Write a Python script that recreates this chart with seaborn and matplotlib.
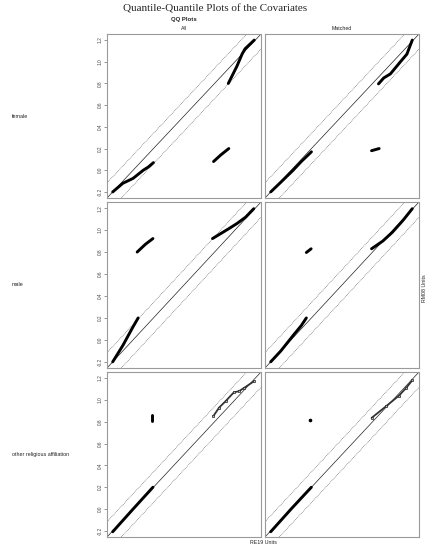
import numpy as np
import pandas as pd
import matplotlib
matplotlib.use("Agg")
import matplotlib.pyplot as plt
import seaborn as sns

# ---- data (QQ quantile traces, segments) ----
covariates = ["female", "male", "other religious affiliation"]
samples = ["All", "Matched"]
tick_values = [-0.2, 0.0, 0.2, 0.4, 0.6, 0.8, 1.0, 1.2]

female_all_x = [-0.2, -0.1, 0.0, 0.1, 0.15, 0.2, 0.79, 0.86, 0.94, 0.935, 1.02, 1.07, 1.10, 1.19]
female_all_y = [-0.2, -0.12, -0.075, 0.0, 0.03, 0.07, 0.08, 0.14, 0.2, 0.80, 0.96, 1.07, 1.12, 1.20]
female_all_seg = [1, 1, 1, 1, 1, 1, 2, 2, 2, 3, 3, 3, 3, 3]

female_matched_x = [-0.2, -0.1, 0.02, 0.1, 0.2, 0.79, 0.865, 0.858, 0.91, 0.975, 1.088, 1.137, 1.19]
female_matched_y = [-0.2, -0.11, 0.0, 0.08, 0.17, 0.18, 0.20, 0.796, 0.851, 0.888, 1.016, 1.07, 1.20]
female_matched_seg = [1, 1, 1, 1, 1, 2, 2, 3, 3, 3, 3, 3, 3]

male_all_x = [-0.2, -0.1, 0.0, 0.05, 0.04, 0.12, 0.195, 0.78, 0.94, 1.02, 1.105, 1.185]
male_all_y = [-0.2, -0.05, 0.12, 0.2, 0.80, 0.87, 0.923, 0.923, 1.013, 1.06, 1.118, 1.195]
male_all_seg = [1, 1, 1, 1, 2, 2, 2, 3, 3, 3, 3, 3]

male_matched_x = [-0.2, -0.1, 0.02, 0.1, 0.15, 0.15, 0.197, 0.79, 0.9, 0.994, 1.1, 1.19]
male_matched_y = [-0.2, -0.1, 0.04, 0.13, 0.2, 0.796, 0.83, 0.83, 0.9, 0.98, 1.09, 1.195]
male_matched_seg = [1, 1, 1, 1, 1, 2, 2, 3, 3, 3, 3, 3]

other_all_x = [-0.2, 0.0, 0.195, 0.19, 0.19, 0.789, 0.845, 0.91, 0.99, 1.04, 1.09, 1.185]
other_all_y = [-0.208, 0.0, 0.2, 0.81, 0.86, 0.853, 0.93, 0.99, 1.07, 1.08, 1.11, 1.17]
other_all_seg = [1, 1, 1, 2, 2, 3, 3, 3, 3, 3, 3, 3]

other_matched_x = [-0.2, 0.0, 0.199, 0.19, 0.79, 0.93, 1.06, 1.13, 1.19]
other_matched_y = [-0.208, 0.0, 0.2, 0.814, 0.835, 0.94, 1.04, 1.11, 1.18]
other_matched_seg = [1, 1, 1, 2, 3, 3, 3, 3, 3]

panels = {
    ("female", "All"): (female_all_x, female_all_y, female_all_seg),
    ("female", "Matched"): (female_matched_x, female_matched_y, female_matched_seg),
    ("male", "All"): (male_all_x, male_all_y, male_all_seg),
    ("male", "Matched"): (male_matched_x, male_matched_y, male_matched_seg),
    ("other religious affiliation", "All"): (other_all_x, other_all_y, other_all_seg),
    ("other religious affiliation", "Matched"): (other_matched_x, other_matched_y, other_matched_seg),
}

# ---- figure ----
sns.set_theme(style="white")
plt.rcParams["font.family"] = ["Liberation Sans", "DejaVu Sans"]

W, H = 429, 550
fig = plt.figure(figsize=(W / 100, H / 100), dpi=100)

col_lr = [(107, 261), (265, 419)]
row_tb = [(34, 198), (202, 368), (372, 537)]
lim = (-0.256, 1.256)
frame_color = "#9a9a9a"

for r, cov in enumerate(covariates):
    for c, smp in enumerate(samples):
        l, rr = col_lr[c]
        t, b = row_tb[r]
        ax = fig.add_axes([l / W, 1 - b / H, (rr - l) / W, (b - t) / H])
        ax.set_xlim(*lim)
        ax.set_ylim(*lim)
        # reference lines
        ax.axline((0, 0), slope=1, color="#222222", lw=0.5)
        ax.axline((0, 0.14), slope=1, color="#444444", lw=0.4, ls=(0, (1.5, 1.5)))
        ax.axline((0, -0.14), slope=1, color="#444444", lw=0.4, ls=(0, (1.5, 1.5)))
        xs, ys, seg = panels[(cov, smp)]
        df = pd.DataFrame({"x": xs, "y": ys, "seg": seg})
        for s, g in df.groupby("seg"):
            single = len(g) == 1
            hollow = cov.startswith("other") and s == 3
            if single:
                ax.plot(g["x"], g["y"], "o", ms=1.6, color="black")
            elif hollow:
                sns.lineplot(data=g, x="x", y="y", sort=False, ax=ax, color="#333333",
                             lw=1.3, estimator=None, legend=False,
                             marker="o", markersize=1.8, markerfacecolor="#bbbbbb",
                             markeredgecolor="black", markeredgewidth=0.4)
            else:
                sns.lineplot(data=g, x="x", y="y", sort=False, ax=ax, color="black",
                             lw=2.1, estimator=None, legend=False,
                             solid_capstyle="round", solid_joinstyle="round")
        ax.set_xlabel("")
        ax.set_ylabel("")
        ax.set_xticks([])
        for sp in ax.spines.values():
            sp.set_color(frame_color)
            sp.set_linewidth(0.8)
        if c == 0:
            ax.set_yticks(tick_values)
            ax.set_yticklabels([f"{v:.1f}" for v in tick_values], rotation=90,
                               va="center", fontsize=3.4, color="#444444")
            ax.tick_params(axis="y", length=2, width=0.4, pad=1, color="#444444", left=True)
        else:
            ax.set_yticks([])

    # row label
    t, b = row_tb[r]
    fig.text(12 / W, 1 - ((t + b) / 2) / H, cov, ha="left", va="center", fontsize=3.9,
             color="#222222")

fig.text(215 / W, 1 - 9 / H, "Quantile-Quantile Plots of the Covariates",
         ha="center", va="center", fontsize=8, family=["Liberation Serif", "DejaVu Serif"])
fig.text(184 / W, 1 - 19.5 / H, "QQ Plots", ha="center", va="center", fontsize=4.3,
         weight="bold")
fig.text(184 / W, 1 - 28 / H, "All", ha="center", va="center", fontsize=3.8, color="#222222")
fig.text(342 / W, 1 - 28 / H, "Matched", ha="center", va="center", fontsize=3.8,
         color="#222222")
fig.text(424 / W, 1 - 288 / H, "RM08 Units", ha="center", va="center", rotation=90,
         fontsize=3.8, color="#222222")
fig.text(263 / W, 1 - 543 / H, "RE19 Units", ha="center", va="center", fontsize=3.8,
         color="#222222")

fig.savefig("out.png", dpi=100)
